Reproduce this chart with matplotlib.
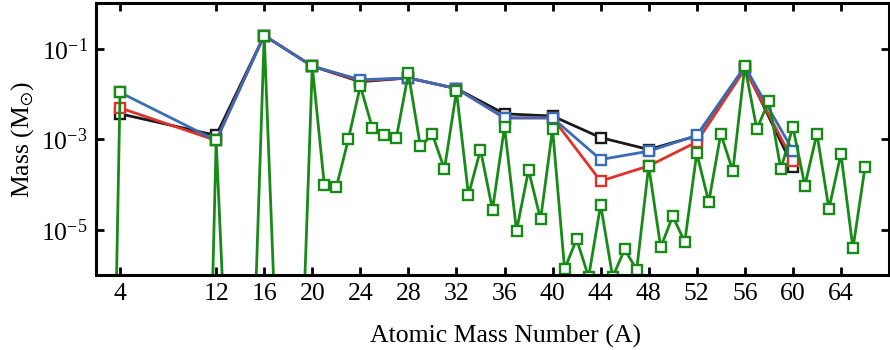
import numpy as np
import matplotlib
matplotlib.use("Agg")
import matplotlib.pyplot as plt
from matplotlib.ticker import FixedLocator, NullLocator

plt.rcParams['font.family'] = ['Liberation Serif', 'DejaVu Serif']
plt.rcParams['mathtext.fontset'] = 'stix'

# ---- data ----
A_even = [4, 12, 16, 20, 24, 28, 32, 36, 40, 44, 48, 52, 56, 60]
mass_black = [0.0037, 0.00123, 0.2, 0.042, 0.019, 0.023, 0.0134, 0.0037, 0.0033,
              0.0011, 0.0006, 0.0012, 0.040, 0.00025]
mass_red = [0.0050, 0.00095, 0.2, 0.042, 0.020, 0.023, 0.0134, 0.0030, 0.0030,
            0.00012, 0.00026, 0.00088, 0.036, 0.00034]
mass_blue = [0.011, 0.00095, 0.2, 0.042, 0.021, 0.023, 0.0134, 0.0030, 0.0030,
             0.00036, 0.00055, 0.00123, 0.041, 0.00057]

A_all = list(range(3, 67))
mass_green = [1e-16, 0.011, np.nan, np.nan, np.nan, np.nan, np.nan, np.nan, 1.5e-14,
              0.00095, 1e-9, 1e-9, 1.8e-9, 0.2, 2.5e-8, 1e-9, 1e-9, 0.042, 1.0e-4,
              8.7e-5, 1.0e-3, 0.0154, 0.0018, 0.00125, 0.0011, 0.029, 7.0e-4, 0.0013, 2.2e-4,
              0.0118, 5.9e-5, 5.9e-4, 2.8e-5, 0.0019, 9.5e-6, 2.1e-4, 1.7e-5, 0.0017, 1.35e-6,
              6.2e-6, 9e-7, 3.6e-5, 9e-7, 3.7e-6, 1.3e-6, 2.6e-4, 4.1e-6, 2.0e-5, 5.4e-6,
              5.0e-4, 4.1e-5, 0.00134, 2.0e-4, 0.042, 0.0017, 0.0071, 2.2e-4, 0.0019, 9.5e-5,
              0.00135, 2.9e-5, 4.8e-4, 3.9e-6, 2.4e-4]

x_ticks = [4, 12, 16, 20, 24, 28, 32, 36, 40, 44, 48, 52, 56, 60, 64]
y_ticks = [1e-1, 1e-3, 1e-5]
y_tick_labels = [r'$\mathregular{10^{-1}}$', r'$\mathregular{10^{-3}}$', r'$\mathregular{10^{-5}}$']

# ---- figure ----
fig = plt.figure(figsize=(8.9, 3.5), dpi=100)
ax = fig.add_axes([96/890, 1 - 275/350, (889 - 96)/890, (275 - 3)/350])

lw = 2.0
ms = 6.8
mew = 1.7
style = dict(marker='s', markerfacecolor='white', markersize=ms, markeredgewidth=mew, linewidth=lw)
ax.plot(A_even, mass_black, color='#1a1a1a', **style)
ax.plot(A_even, mass_red, color='#e0322a', **style)
ax.plot(A_even, mass_blue, color='#3a6cb6', **style)
ax.plot(A_all, mass_green, color='#178a17', **style)

ax.set_yscale('log')
ax.set_xlim(2, 68)
ax.set_ylim(1e-6, 1.05)

ax.xaxis.set_major_locator(FixedLocator(x_ticks))
ax.xaxis.set_minor_locator(NullLocator())
ax.set_xticklabels([str(t) for t in x_ticks])
ax.yaxis.set_major_locator(FixedLocator(y_ticks))
ax.yaxis.set_minor_locator(NullLocator())
ax.set_yticklabels(y_tick_labels)

ax.tick_params(axis='both', which='major', direction='in', length=6, width=2.0,
               top=True, right=True, labelsize=18.5, pad=6)
for s in ax.spines.values():
    s.set_linewidth(2.2)

ax.set_xlabel('Atomic Mass Number (A)', fontsize=18.5)
ax.xaxis.set_label_coords(0.516, -0.183)
ax.set_ylabel(r'Mass (M$_{\odot}$)', fontsize=18.5, labelpad=4)

fig.savefig('out.png', dpi=100)
